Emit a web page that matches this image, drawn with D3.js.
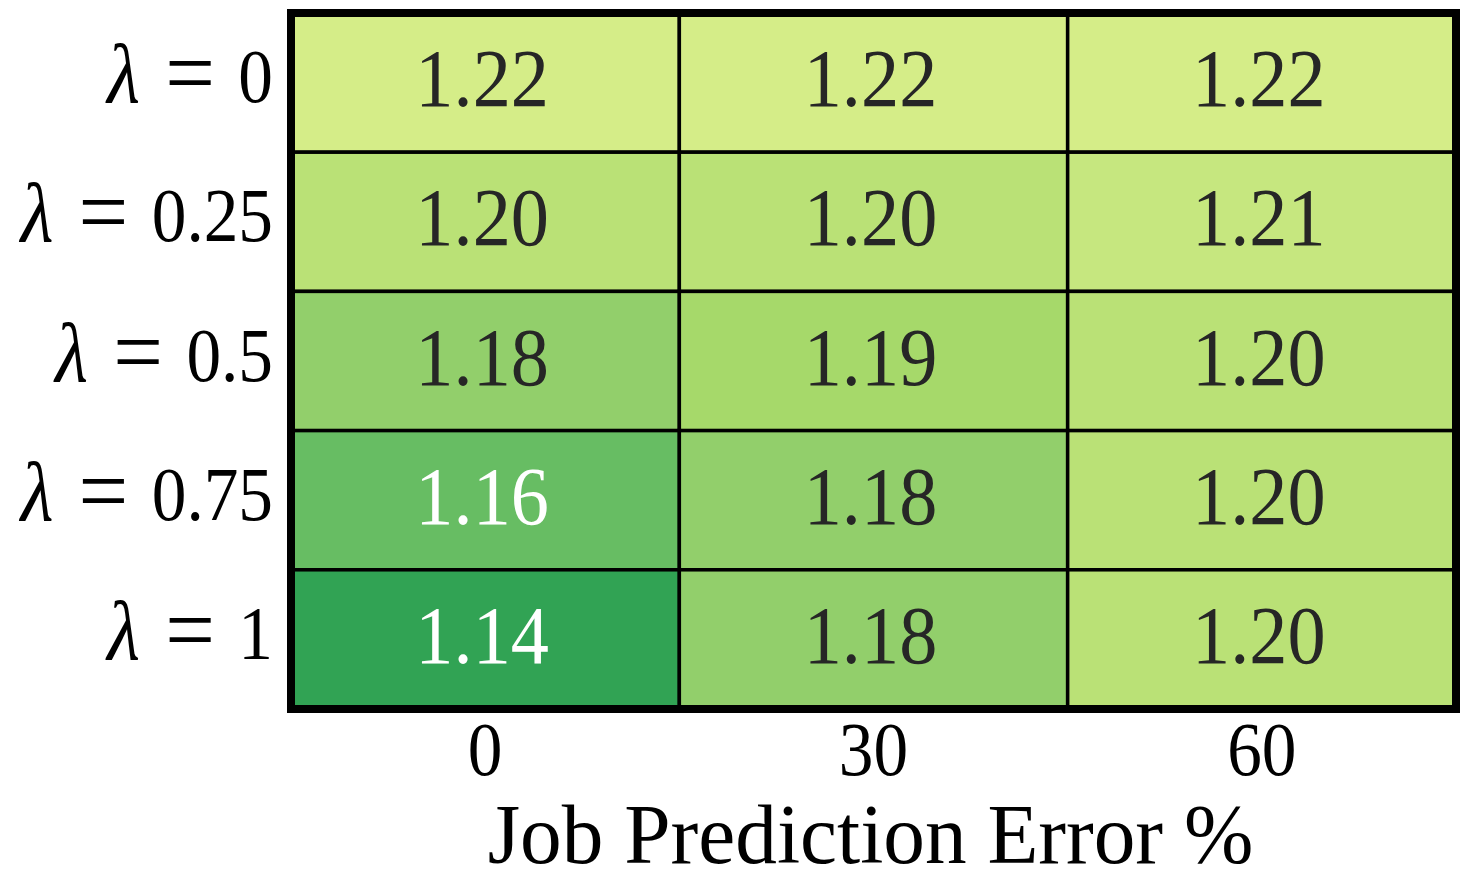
<!DOCTYPE html>
<html>
<head>
<meta charset="utf-8">
<script src="https://cdn.jsdelivr.net/npm/d3@7.9.0/dist/d3.min.js"></script>
<style>
  html, body { margin: 0; padding: 0; background: #fff; }
  svg { display: block; font-family: "Liberation Serif", "DejaVu Serif", serif; }
</style>
</head>
<body>
<div id="chart"></div>
<script>
// rows: lambda values, columns: job prediction error %
const lambdas = ['0', '0.25', '0.5', '0.75', '1'];
const errors = ['0', '30', '60'];
const values = [
  [1.22, 1.22, 1.22],
  [1.20, 1.20, 1.21],
  [1.18, 1.19, 1.20],
  [1.16, 1.18, 1.20],
  [1.14, 1.18, 1.20],
];
// colour stops
const colorStops = [1.14, 1.16, 1.18, 1.19, 1.20, 1.21, 1.22];
const colorRange = ['#31a354', '#67bd63', '#92cf6b', '#a6d96a', '#bae176', '#c6e77f', '#d5ed88'];

const width = 1470;
const height = 894;
const box = { left: 291, right: 1456, top: 13, bottom: 709 };

const cells = values.flatMap((row, i) => row.map((v, j) => ({ row: lambdas[i], col: errors[j], value: v })));

const x = d3.scaleBand().domain(errors).range([box.left, box.right]);
const y = d3.scaleBand().domain(lambdas).range([box.top, box.bottom]);
const color = d3.scaleLinear().domain(colorStops).range(colorRange);

const svg = d3.select('#chart')
  .append('svg')
  .attr('width', width)
  .attr('height', height)
  .attr('viewBox', `0 0 ${width} ${height}`);

// cells
svg.append('g')
  .selectAll('rect')
  .data(cells)
  .join('rect')
  .attr('x', d => x(d.col))
  .attr('y', d => y(d.row))
  .attr('width', x.bandwidth())
  .attr('height', y.bandwidth())
  .attr('fill', d => color(d.value))
  .attr('stroke', '#000')
  .attr('stroke-width', 3.5);

// values
svg.append('g')
  .selectAll('text')
  .data(cells)
  .join('text')
  .attr('transform', d => `translate(${x(d.col) + x.bandwidth() / 2 - 3},${y(d.row) + y.bandwidth() / 2 + 23.5}) scale(0.92,1)`)
  .attr('text-anchor', 'middle')
  .attr('font-size', 83)
  .attr('fill', d => d.value <= 1.165 ? '#ffffff' : '#262626')
  .text(d => d.value.toFixed(2));

// outer frame
svg.append('rect')
  .attr('x', box.left)
  .attr('y', box.top)
  .attr('width', box.right - box.left)
  .attr('height', box.bottom - box.top)
  .attr('fill', 'none')
  .attr('stroke', '#000')
  .attr('stroke-width', 8);

// y labels
const yLab = svg.append('g');
lambdas.forEach(l => {
  yLab.append('text')
    .attr('transform', `translate(273,${y(l) + y.bandwidth() / 2 + 19.5}) scale(0.9,1)`)
    .attr('text-anchor', 'end')
    .attr('font-size', 77)
    .attr('fill', '#000')
    .html(`<tspan font-style="italic" font-size="84">λ</tspan><tspan dx="28" font-size="98" dy="3">=</tspan><tspan dx="26" dy="-3">${l}</tspan>`);
});

// x tick labels
svg.append('g')
  .selectAll('text')
  .data(errors)
  .join('text')
  .attr('transform', d => `translate(${x(d) + x.bandwidth() / 2},775) scale(0.9,1)`)
  .attr('text-anchor', 'middle')
  .attr('font-size', 77)
  .attr('fill', '#000')
  .text(d => d);

// x axis title
svg.append('text')
  .attr('transform', `translate(${(box.left + box.right) / 2 - 3},863) scale(0.98,1)`)
  .attr('text-anchor', 'middle')
  .attr('font-size', 85)
  .attr('fill', '#000')
  .text('Job Prediction Error %');
</script>
</body>
</html>
